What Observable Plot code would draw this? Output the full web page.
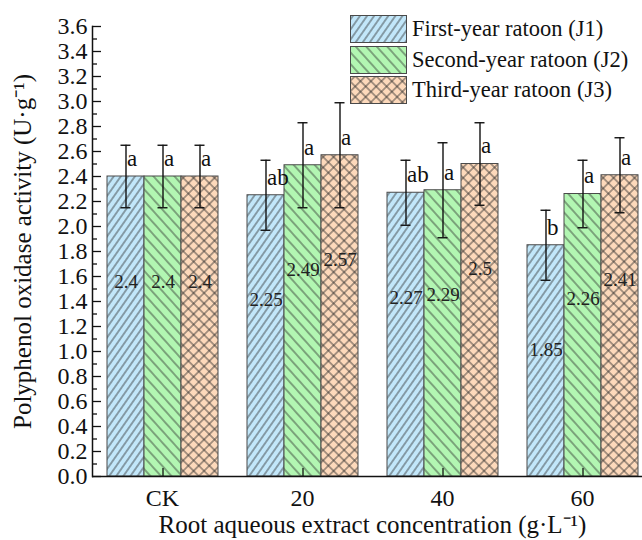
<!DOCTYPE html>
<html>
<head>
<meta charset="utf-8">
<script src="https://cdn.jsdelivr.net/npm/d3@7"></script>
<script src="https://cdn.jsdelivr.net/npm/@observablehq/plot@0.6"></script>
<style>
  html, body { margin: 0; padding: 0; background: white; overflow: hidden; }
  #wrap { position: relative; width: 642px; height: 540px; overflow: hidden; }
  #wrap svg { overflow: hidden; }
  #legend { position: absolute; left: 350px; top: 14px; font-family: 'Liberation Serif', serif; font-size: 22.5px; color: #111; }
  .lrow { display: flex; align-items: center; height: 30.5px; white-space: nowrap; }
  .lrow svg { display: block; margin-right: 5px; }
</style>
</head>
<body>
<div id="wrap"><div id="legend"></div></div>
<script>
// ---- data ----
const groups = ["CK", "20", "40", "60"];
const seriesKeys = ["J1", "J2", "J3"];
const seriesNames = ["First-year ratoon (J1)", "Second-year ratoon (J2)", "Third-year ratoon (J3)"];
const j1Values = [2.4, 2.25, 2.27, 1.85];
const j2Values = [2.4, 2.49, 2.29, 2.26];
const j3Values = [2.4, 2.57, 2.5, 2.41];
const j1Errors = [0.25, 0.28, 0.26, 0.28];
const j2Errors = [0.25, 0.34, 0.38, 0.27];
const j3Errors = [0.25, 0.42, 0.33, 0.30];
const j1Letters = ["a", "ab", "ab", "b"];
const j2Letters = ["a", "a", "a", "a"];
const j3Letters = ["a", "a", "a", "a"];
const yTicks = [0.0, 0.2, 0.4, 0.6, 0.8, 1.0, 1.2, 1.4, 1.6, 1.8, 2.0, 2.2, 2.4, 2.6, 2.8, 3.0, 3.2, 3.4, 3.6];
const yMinorTicks = [0.1, 0.3, 0.5, 0.7, 0.9, 1.1, 1.3, 1.5, 1.7, 1.9, 2.1, 2.3, 2.5, 2.7, 2.9, 3.1, 3.3, 3.5];
const xTickKey = ["J2"];
const xTitle = "Root aqueous extract concentration (g·L⁻¹)";
const yTitle = "Polyphenol oxidase activity (U·g⁻¹)";

const valueSets = [j1Values, j2Values, j3Values];
const errorSets = [j1Errors, j2Errors, j3Errors];
const letterSets = [j1Letters, j2Letters, j3Letters];
const rows = [];
groups.forEach((g, gi) => seriesKeys.forEach((s, si) => rows.push({
  group: g, series: s, value: valueSets[si][gi], err: errorSets[si][gi], letter: letterSets[si][gi]
})));

// ---- hatch patterns ----
const patternDefs = {
  J1: { bg: "#c2e7fa", w: 5.8, angle: 35, cross: false },
  J2: { bg: "#b2f6b2", w: 7.8, angle: -42, cross: false },
  J3: { bg: "#fdd9bb", w: 7.4, angle: 45, cross: true }
};
function patternMarkup(prefix) {
  return seriesKeys.map(k => {
    const p = patternDefs[k];
    const lines = `<line x1="${p.w/2}" y1="-1" x2="${p.w/2}" y2="${p.w+1}" stroke="#2a2a2a" stroke-width="0.8"/>` +
      (p.cross ? `<line x1="-1" y1="${p.w/2}" x2="${p.w+1}" y2="${p.w/2}" stroke="#2a2a2a" stroke-width="0.8"/>` : "");
    return `<pattern id="${prefix}${k}" patternUnits="userSpaceOnUse" width="${p.w}" height="${p.w}" patternTransform="rotate(${p.angle})">` +
      `<rect x="0" y="0" width="${p.w}" height="${p.w}" fill="${p.bg}"/>${lines}</pattern>`;
  }).join("");
}

const chart = Plot.plot({
  width: 642,
  height: 540,
  marginLeft: 92,
  marginRight: -10,
  marginTop: 26,
  marginBottom: 64,
  style: { fontFamily: "'Liberation Serif', serif", fontSize: "24px", color: "#111", background: "white" },
  fx: { domain: groups, padding: 0 },
  x: { domain: seriesKeys, paddingInner: 0, paddingOuter: 0.375, axis: null },
  y: { domain: [0, 3.6] },
  marks: [
    Plot.barY(rows, { fx: "group", x: "series", y: "value", fill: d => `url(#pat${d.series})`, stroke: "#4a4a4a", strokeWidth: 1 }),
    Plot.ruleX(rows, { fx: "group", x: "series", y1: d => d.value - d.err, y2: d => d.value + d.err, stroke: "#111", strokeWidth: 1.4 }),
    Plot.tickY(rows, { fx: "group", x: "series", y: d => d.value + d.err, insetLeft: 13.5, insetRight: 13.5, stroke: "#111", strokeWidth: 1.4 }),
    Plot.tickY(rows, { fx: "group", x: "series", y: d => d.value - d.err, insetLeft: 13.5, insetRight: 13.5, stroke: "#111", strokeWidth: 1.4 }),
    Plot.text(rows, { fx: "group", x: "series", y: "value", text: "letter", textAnchor: "start", dx: 1, dy: -18, fontSize: 23, fill: "#111" }),
    Plot.text(rows, { fx: "group", x: "series", y: "value", text: d => String(d.value), dy: 105, fontSize: 19, fill: "#222" }),
    Plot.ruleY([0], { stroke: "#111", strokeWidth: 1.5 }),
    Plot.frame({ anchor: "left", facetAnchor: "left", stroke: "#111", strokeWidth: 1.5 }),
    Plot.ruleY(yTicks, { y: d => d, facetAnchor: "left", insetRight: 131, stroke: "#111", strokeWidth: 1.3 }),
    Plot.ruleY(yMinorTicks, { y: d => d, facetAnchor: "left", insetRight: 135, stroke: "#111", strokeWidth: 1.3 }),
    Plot.ruleX(xTickKey, { x: d => d, insetTop: 442, stroke: "#111", strokeWidth: 1.3 }),
    Plot.axisY({ ticks: yTicks, tickSize: 0, tickPadding: 5, tickFormat: d => d.toFixed(1), label: yTitle, labelAnchor: "center", labelOffset: 79, labelArrow: "none" }),
    Plot.axisFx({ anchor: "bottom", tickSize: 0, tickPadding: 12, label: xTitle, labelAnchor: "center", labelOffset: 56, labelArrow: "none" })
  ]
});

d3.select(chart).insert("defs", ":first-child").html(patternMarkup("pat"));
d3.select(chart).selectAll('[aria-label="y-axis label"] text, [aria-label="fx-axis label"] text').attr("font-size", 25);
document.getElementById("wrap").prepend(chart);

// ---- legend ----
const legend = document.getElementById("legend");
seriesKeys.forEach((k, i) => {
  const row = document.createElement("div");
  row.className = "lrow";
  row.innerHTML = `<svg width="57" height="28"><defs>${patternMarkup("lg" + i)}</defs>` +
    `<rect x="0.5" y="0.5" width="56" height="27" fill="url(#lg${i}${k})" stroke="#4a4a4a" stroke-width="1"/></svg>` +
    `<span>${seriesNames[i]}</span>`;
  legend.appendChild(row);
});
</script>
</body>
</html>
